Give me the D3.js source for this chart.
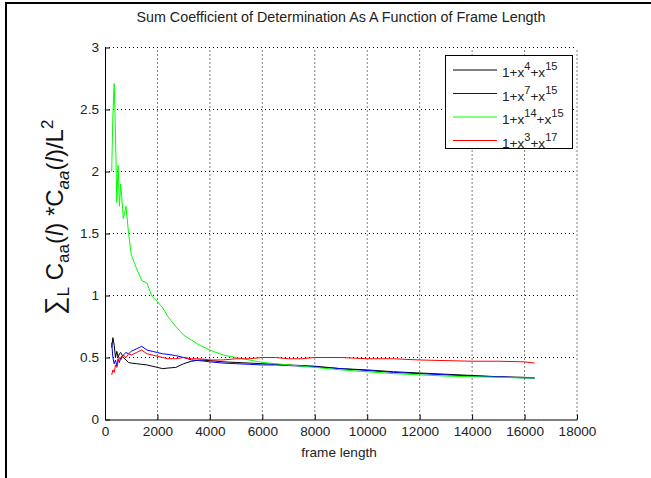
<!DOCTYPE html>
<html lang="en">
<head>
  <meta charset="UTF-8" />
  <title>Sum Coefficient of Determination</title>
  <script src="https://d3js.org/d3.v7.min.js"></script>
  <style>
    body {
      margin: 0;
      background: #fff;
      font-family: "Liberation Sans", Arial, sans-serif;
    }
    svg { display: block; }
    .grid line { stroke: #000; stroke-width: 1; stroke-dasharray: 1,3; }
    .tick text { font-size: 13.6px; fill: #222; }
    .series { fill: none; stroke-width: 1; }
  </style>
</head>
<body>

<svg width="651" height="478"></svg>

<script>
  // frame lengths where the curves were sampled
  const frameLen = [256, 300, 350, 400, 450, 500, 550, 600, 700, 800, 900, 1000, 1200, 1400, 1600,
    1800, 2000, 2200, 2400, 2700, 3000, 3300, 3600, 4000, 4500, 5000, 5500, 6000, 6500, 7000,
    7500, 8000, 9000, 10000, 11000, 12000, 13000, 14000, 15000, 16000, 16384];

  const poly4_15 = [0.58, 0.66, 0.60, 0.50, 0.55, 0.50, 0.53, 0.54, 0.50, 0.48, 0.46, 0.455, 0.45, 0.445, 0.44,
    0.43, 0.42, 0.41, 0.415, 0.42, 0.45, 0.47, 0.48, 0.475, 0.465, 0.46, 0.455, 0.45, 0.445, 0.44,
    0.435, 0.43, 0.41, 0.40, 0.385, 0.375, 0.365, 0.355, 0.345, 0.34, 0.335];

  const poly7_15 = [0.62, 0.50, 0.45, 0.48, 0.43, 0.49, 0.46, 0.50, 0.52, 0.54, 0.53, 0.55, 0.57, 0.59, 0.56,
    0.55, 0.54, 0.53, 0.525, 0.515, 0.50, 0.48, 0.475, 0.465, 0.455, 0.45, 0.445, 0.44, 0.44, 0.435,
    0.43, 0.425, 0.41, 0.395, 0.38, 0.37, 0.36, 0.35, 0.345, 0.335, 0.335];

  const poly14_15 = [2.00, 2.45, 2.71, 2.30, 1.75, 2.05, 1.72, 1.90, 1.62, 1.72, 1.50, 1.33, 1.22, 1.12, 1.10,
    0.99, 0.95, 0.90, 0.83, 0.75, 0.68, 0.64, 0.60, 0.56, 0.52, 0.50, 0.48, 0.46, 0.45, 0.44,
    0.43, 0.42, 0.40, 0.385, 0.37, 0.36, 0.35, 0.345, 0.34, 0.335, 0.335];

  const poly3_17 = [0.36, 0.40, 0.38, 0.44, 0.42, 0.47, 0.50, 0.48, 0.52, 0.50, 0.53, 0.52, 0.54, 0.56, 0.53,
    0.52, 0.51, 0.50, 0.49, 0.49, 0.50, 0.49, 0.49, 0.48, 0.48, 0.49, 0.49, 0.50, 0.50, 0.49,
    0.49, 0.50, 0.50, 0.49, 0.49, 0.48, 0.475, 0.47, 0.47, 0.465, 0.455];

  const xTicks = [0, 2000, 4000, 6000, 8000, 10000, 12000, 14000, 16000, 18000];
  const yTicks = [0, 0.5, 1, 1.5, 2, 2.5, 3];

  // legend exponents for 1+x^a+x^b
  const legendTerms = [["4", "15"], ["7", "15"], ["14", "15"], ["3", "17"]];
  const colors = ["#000000", "#0000ff", "#00ff00", "#ff0000"];
  const seriesValues = [poly4_15, poly7_15, poly14_15, poly3_17];

  const svg = d3.select("svg");

  const plotL = 105, plotR = 577, plotT = 47.5, plotB = 419.5;
  const x = d3.scaleLinear().domain([0, 18000]).range([plotL, plotR]);
  const y = d3.scaleLinear().domain([0, 3]).range([plotB, plotT]);

  // figure frame (top and left edges show in the picture)
  svg.append("path")
    .attr("d", "M6,480 L6,3 L660,3")
    .attr("fill", "none")
    .attr("stroke", "#000")
    .attr("stroke-width", 2);

  // dotted grid
  const grid = svg.append("g").attr("class", "grid");
  grid.selectAll("line.v")
    .data(xTicks.slice(1))
    .enter().append("line")
    .attr("x1", d => x(d)).attr("x2", d => x(d))
    .attr("y1", plotB).attr("y2", plotT);
  grid.selectAll("line.h")
    .data(yTicks.slice(1))
    .enter().append("line")
    .attr("y1", d => y(d)).attr("y2", d => y(d))
    .attr("x1", plotL).attr("x2", plotR);

  // axes, ticks pointing inward
  const xAxis = d3.axisBottom(x).tickValues(xTicks).tickSizeInner(-5).tickSizeOuter(0).tickPadding(7)
    .tickFormat(d3.format("d"));
  const yAxis = d3.axisLeft(y).tickValues(yTicks).tickSizeInner(-5).tickSizeOuter(0).tickPadding(6)
    .tickFormat(d3.format("~g"));

  const gx = svg.append("g").attr("transform", `translate(0,${plotB})`).call(xAxis);
  const gy = svg.append("g").attr("transform", `translate(${plotL},0)`).call(yAxis);
  [gx, gy].forEach(g => {
    g.select(".domain").attr("stroke", "#000").attr("stroke-width", 1);
    g.selectAll(".tick line").attr("stroke", "#000");
    g.selectAll("text").attr("font-family", "Liberation Sans, Arial, sans-serif");
  });

  // curves
  const line = d3.line()
    .x((d, i) => x(frameLen[i]))
    .y(d => y(d));

  svg.selectAll("path.series")
    .data(seriesValues)
    .enter().append("path")
    .attr("class", "series")
    .attr("stroke", (d, i) => colors[i])
    .attr("d", line);

  // title
  svg.append("text")
    .attr("x", (plotL + plotR) / 2)
    .attr("y", 22)
    .attr("text-anchor", "middle")
    .attr("font-size", 14.3)
    .attr("fill", "#222")
    .text("Sum Coefficient of Determination As A Function of Frame Length");

  // x label
  svg.append("text")
    .attr("x", (plotL + plotR) / 2 - 2)
    .attr("y", 457)
    .attr("text-anchor", "middle")
    .attr("font-size", 13.6)
    .attr("fill", "#222")
    .text("frame length");

  // y label
  const yl = svg.append("text")
    .attr("transform", "translate(63,315) rotate(-90)")
    .attr("text-anchor", "start")
    .attr("font-size", 24)
    .attr("fill", "#111");
  yl.append("tspan").attr("font-size", 26).text("\u2211");
  yl.append("tspan").attr("font-size", 17).attr("dy", 6).text("L");
  yl.append("tspan").attr("dy", -6).text(" C");
  yl.append("tspan").attr("font-size", 17).attr("dy", 6).text("aa");
  yl.append("tspan").attr("dy", -6).text("(");
  yl.append("tspan").attr("font-style", "italic").text("l");
  yl.append("tspan").text(") *C");
  yl.append("tspan").attr("font-size", 17).attr("font-style", "italic").attr("dy", 6).text("aa");
  yl.append("tspan").attr("dy", -6).text("(");
  yl.append("tspan").attr("font-style", "italic").text("l");
  yl.append("tspan").text(")/L");
  yl.append("tspan").attr("font-size", 17).attr("dy", -10).text("2");

  // legend
  const lg = svg.append("g");
  lg.append("rect")
    .attr("x", 445.5).attr("y", 55.5)
    .attr("width", 127).attr("height", 93)
    .attr("fill", "#fff")
    .attr("stroke", "#000");

  legendTerms.forEach((t, i) => {
    const ly = 70 + i * 23.5;
    lg.append("line")
      .attr("x1", 453).attr("x2", 497)
      .attr("y1", ly).attr("y2", ly)
      .attr("stroke", colors[i]);
    const tx = lg.append("text")
      .attr("x", 502).attr("y", ly + 7)
      .attr("font-size", 13.6)
      .attr("fill", "#222");
    tx.append("tspan").text("1+x");
    tx.append("tspan").attr("font-size", 11).attr("dy", -7).text(t[0]);
    tx.append("tspan").attr("dy", 7).text("+x");
    tx.append("tspan").attr("font-size", 11).attr("dy", -7).text(t[1]);
  });
</script>

</body>
</html>
